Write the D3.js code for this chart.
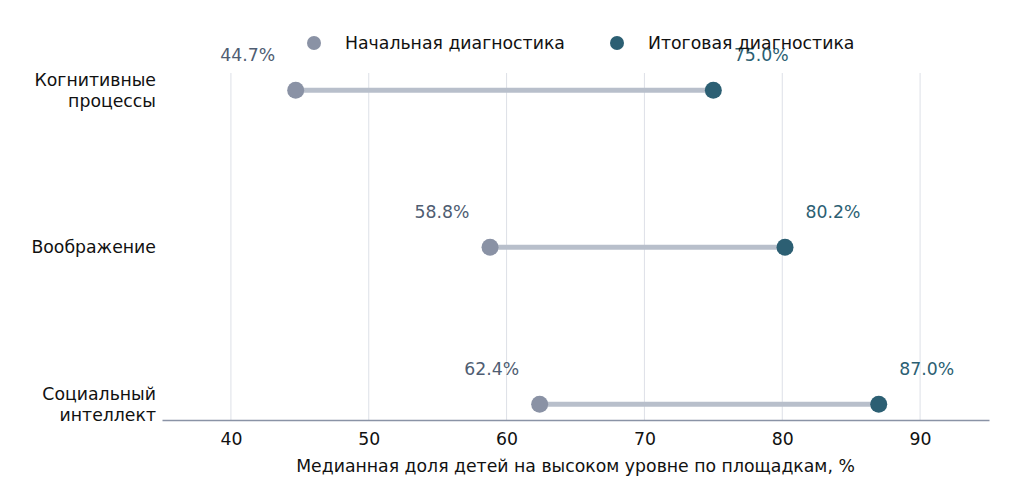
<!DOCTYPE html>
<html>
<head>
<meta charset="utf-8">
<script src="https://cdn.jsdelivr.net/npm/d3@7"></script>
<style>
  body { margin: 0; background: #fff; }
  text { font-family: "DejaVu Sans", sans-serif; }
</style>
</head>
<body>
<div id="chart"></div>
<script>
var categories = ["Когнитивные\nпроцессы", "Воображение", "Социальный\nинтеллект"];
var startValues = [44.7, 58.8, 62.4];
var endValues = [75.0, 80.2, 87.0];
var xTicks = [40, 50, 60, 70, 80, 90];
var seriesNames = ["Начальная диагностика", "Итоговая диагностика"];

var startColor = "#8a92a5";
var endColor = "#2c5f73";
var lineColor = "#b8bfcb";
var fontSize = 17.3;

var svgWidth = 1024, svgHeight = 501;

var svg = d3.select("#chart").append("svg")
    .attr("width", svgWidth)
    .attr("height", svgHeight);

var x = d3.scaleLinear().domain([35, 95]).range([162, 989]);
var y = d3.scaleLinear().domain([-0.1, 2.11]).range([420, 73]);

function rowY(i) { return y(categories.length - 1 - i); }

// grid
svg.append("g").selectAll("line")
    .data(xTicks)
    .enter().append("line")
    .attr("x1", d => x(d)).attr("x2", d => x(d))
    .attr("y1", y(2.11)).attr("y2", y(-0.1))
    .attr("stroke", "#dde0e7")
    .attr("stroke-width", 1);

// x axis
var xAxis = svg.append("g")
    .attr("transform", "translate(0," + y(-0.1) + ")")
    .call(d3.axisBottom(x).tickValues(xTicks).tickSize(0).tickPadding(13));
xAxis.select(".domain").attr("stroke", "#8a93a6").attr("stroke-width", 1.5);
xAxis.selectAll(".tick text")
    .attr("font-family", "DejaVu Sans")
    .attr("font-size", fontSize)
    .attr("fill", "#111");

svg.append("text")
    .attr("x", x(65)).attr("y", 472)
    .attr("text-anchor", "middle")
    .attr("font-size", fontSize)
    .attr("fill", "#111")
    .text("Медианная доля детей на высоком уровне по площадкам, %");

// category labels
categories.forEach(function (c, i) {
    var lines = c.split("\n");
    var t = svg.append("text")
        .attr("text-anchor", "end")
        .attr("font-size", fontSize)
        .attr("fill", "#111");
    var y0 = rowY(i) - (lines.length - 1) * 10.5 + 6;
    lines.forEach(function (l, j) {
        t.append("tspan").attr("x", 156).attr("y", y0 + j * 21).text(l);
    });
});

// connecting lines
svg.append("g").selectAll("line")
    .data(categories)
    .enter().append("line")
    .attr("x1", (d, i) => x(startValues[i]))
    .attr("x2", (d, i) => x(endValues[i]))
    .attr("y1", (d, i) => rowY(i))
    .attr("y2", (d, i) => rowY(i))
    .attr("stroke", lineColor)
    .attr("stroke-width", 5);

// dots
svg.append("g").selectAll("circle")
    .data(startValues)
    .enter().append("circle")
    .attr("cx", d => x(d))
    .attr("cy", (d, i) => rowY(i))
    .attr("r", 8.5)
    .attr("fill", startColor);

svg.append("g").selectAll("circle")
    .data(endValues)
    .enter().append("circle")
    .attr("cx", d => x(d))
    .attr("cy", (d, i) => rowY(i))
    .attr("r", 8.5)
    .attr("fill", endColor);

// value labels
svg.append("g").selectAll("text")
    .data(startValues)
    .enter().append("text")
    .attr("x", d => x(d) - 48)
    .attr("y", (d, i) => rowY(i) - 29)
    .attr("text-anchor", "middle")
    .attr("font-size", fontSize)
    .attr("fill", "#4f5d72")
    .text(d => d.toFixed(1) + "%");

svg.append("g").selectAll("text")
    .data(endValues)
    .enter().append("text")
    .attr("x", d => x(d) + 48)
    .attr("y", (d, i) => rowY(i) - 29)
    .attr("text-anchor", "middle")
    .attr("font-size", fontSize)
    .attr("fill", endColor)
    .text(d => d.toFixed(1) + "%");

// legend
var legendX = [314, 617];
var legend = svg.append("g");
seriesNames.forEach(function (s, i) {
    legend.append("circle")
        .attr("cx", legendX[i]).attr("cy", 43).attr("r", 7)
        .attr("fill", i === 0 ? startColor : endColor);
    legend.append("text")
        .attr("x", legendX[i] + 31).attr("y", 49)
        .attr("font-size", fontSize)
        .attr("fill", "#111")
        .text(s);
});
</script>
</body>
</html>
